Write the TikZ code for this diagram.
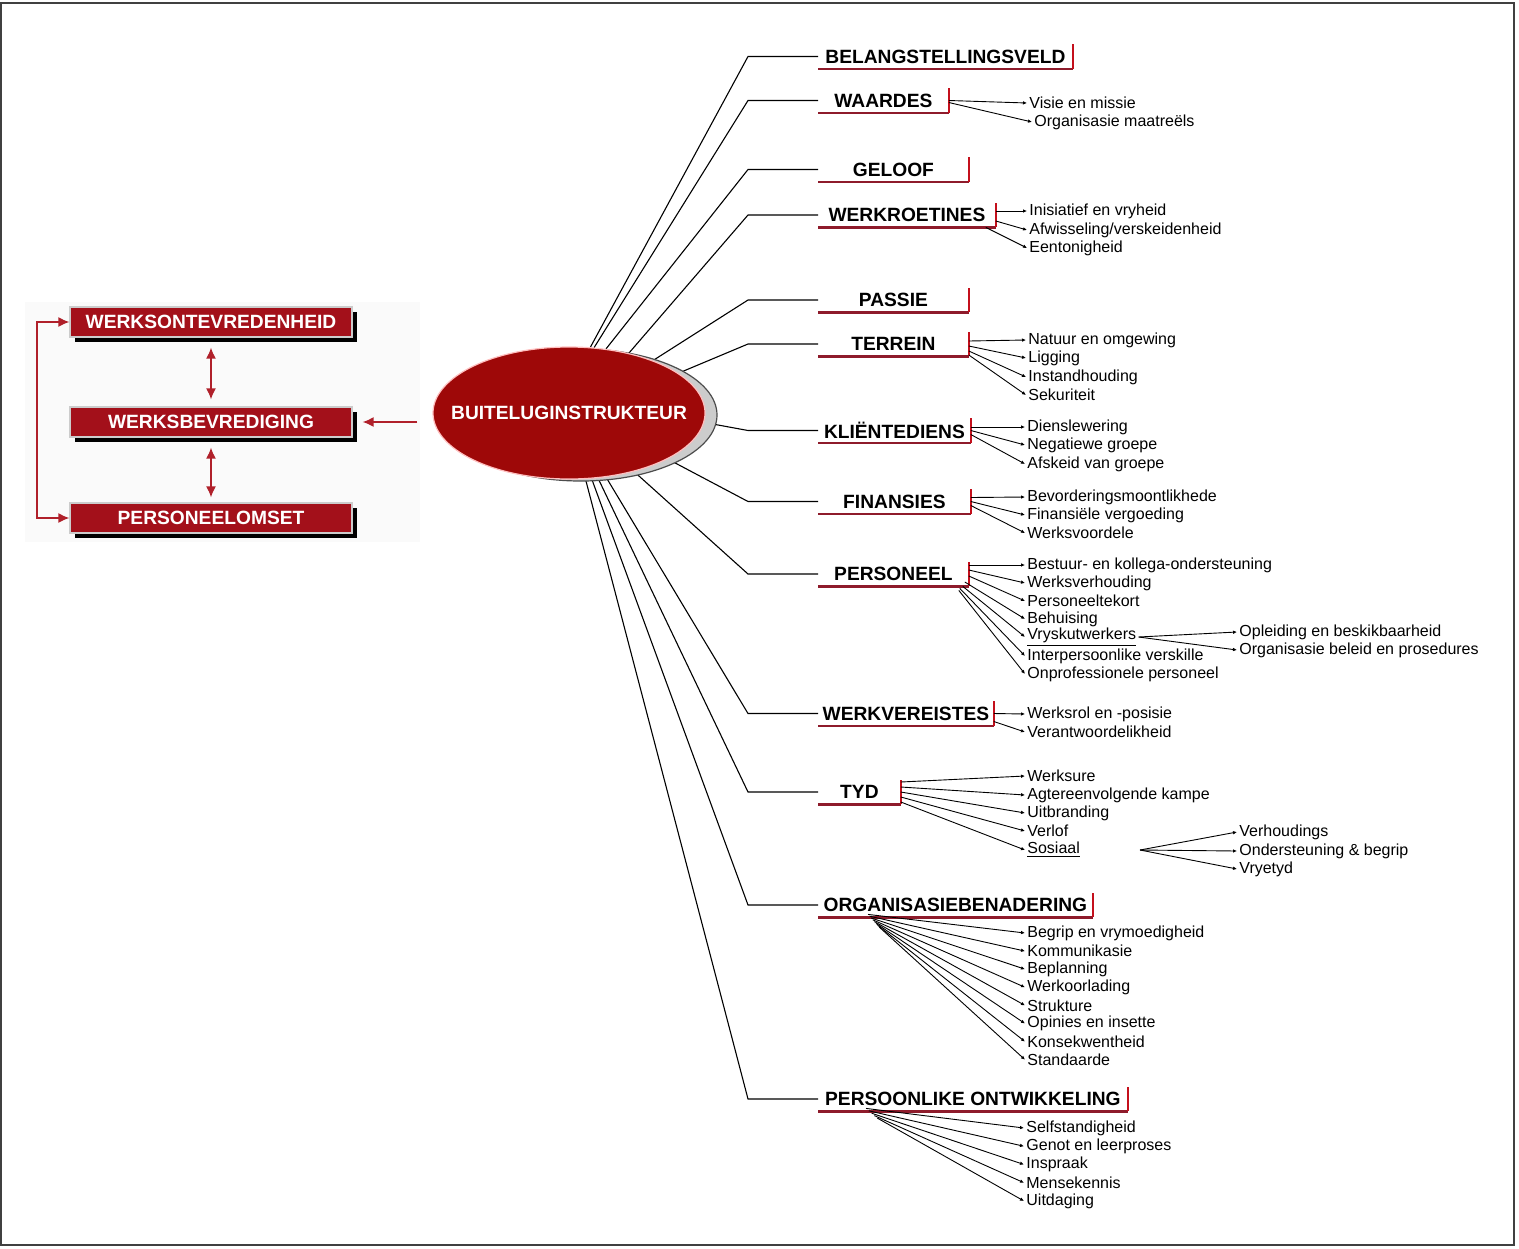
\documentclass[tikz,border=0pt]{standalone}
\usepackage{fontspec}
\setmainfont{Liberation Sans}
\usetikzlibrary{arrows.meta,shapes.geometric,shadows,backgrounds}

\definecolor{boxred}{HTML}{A3101A}
\definecolor{ellred}{HTML}{9E0808}
\definecolor{arrred}{HTML}{B0202A}
\definecolor{ulred}{HTML}{8E1B2B}
\definecolor{tickred}{HTML}{C4101C}

\tikzset{
  catbox/.style={anchor=west, minimum width=#1, minimum height=12pt, inner sep=0pt,
    font=\fontsize{9.6}{11}\selectfont\bfseries},
  item/.style={anchor=west, inner xsep=1pt, inner ysep=0.5pt, font=\fontsize{8}{9.6}\selectfont},
  twig/.style={-{Latex[length=2pt,width=1.8pt]}, line width=0.45pt},
  stem/.style={line width=0.55pt},
  uline/.style={draw=ulred, line width=1.2pt},
  tick/.style={draw=tickred, line width=1pt},
  redbox/.style={fill=boxred, draw=black!20, line width=0.6pt, text=white,
    minimum width=141pt, minimum height=15pt, inner sep=0pt,
    font=\fontsize{9.6}{11}\selectfont\bfseries,
    drop shadow={shadow xshift=2.5pt, shadow yshift=-2.5pt, fill=black, opacity=1}},
  redarr/.style={draw=arrred, line width=0.8pt}
}

\begin{document}
\begin{tikzpicture}[x=0.5pt, y=-0.5pt, >={Latex[length=5.5pt,width=5pt]}]
\useasboundingbox (0,0) rectangle (1519,1248);
\draw[black!75, line width=0.9pt] (1,3) rectangle (1514,1245);

% left block
\node[redbox] (b1) at (211,322) {WERKSONTEVREDENHEID};
\node[redbox] (b2) at (211,422) {WERKSBEVREDIGING};
\node[redbox] (b3) at (211,518) {PERSONEELOMSET};
\coordinate (loopx) at (37,0);

\draw[redarr, <->, shorten <=5pt, shorten >=3.5pt] (b1) -- (b2);
\draw[redarr, <->, shorten <=5pt, shorten >=2.5pt] (b2) -- (b3);
\draw[redarr, <->] (b1.west) -- (loopx |- b1.west) -- (loopx |- b3.west) -- (b3.west);

% centre
\node[ellipse, fill=ellred, draw=red!25, line width=0.6pt, minimum width=136pt, minimum height=66pt,
  inner sep=0pt,
  drop shadow={shadow xshift=6pt, shadow yshift=-1pt, fill=gray!40, draw=black!70, opacity=1},
  label={[text=white, font=\fontsize{9.6}{11}\selectfont\bfseries]center:BUITELUGINSTRUKTEUR}]
  (ell) at (569,413) {};
\draw[redarr, ->, shorten <=7.5pt, shorten >=5pt] (b2.east -| ell.west) -- (b2.east);

% categories
\node[catbox=127pt] (bel) at (818,56.5) {BELANGSTELLINGSVELD};
\node[catbox=65pt] (waa) at (818,100.5) {WAARDES};
\node[catbox=75pt] (gel) at (818,169.5) {GELOOF};
\node[catbox=88.5pt] (wrk) at (818,215) {WERKROETINES};
\node[catbox=75pt] (pas) at (818,300) {PASSIE};
\node[catbox=75pt] (ter) at (818,344) {TERREIN};
\node[catbox=76pt] (kli) at (818,430.5) {KLIËNTEDIENS};
\node[catbox=76pt] (fin) at (818,501.5) {FINANSIES};
\node[catbox=75pt] (per) at (818,574) {PERSONEEL};
\node[catbox=87.5pt] (wve) at (818,713.5) {WERKVEREISTES};
\node[catbox=41pt] (tyd) at (818,792) {TYD};
\node[catbox=137pt] (org) at (818,905) {ORGANISASIEBENADERING};
\node[catbox=154.5pt] (pon) at (818,1099) {PERSOONLIKE ONTWIKKELING};

\foreach \n in {bel,waa,gel,wrk,pas,ter,kli,fin,per,wve,tyd,org,pon}{
  \draw[uline] (\n.south west) -- (\n.south east);
  \draw[tick] (\n.south east) -- (\n.north east);
}

\coordinate (spine) at (748,0);
\begin{scope}[on background layer]
  \fill[black!2] (25,302) rectangle (420,542);
  \foreach \n/\a in {bel/72, waa/69, gel/60, wrk/45, pas/32, ter/20, kli/-4, fin/-25,
                     per/-42, wve/-60, tyd/-66, org/-71, pon/-76}
    \draw[stem] (ell.\a) -- (spine |- \n.west) -- (\n.west);
\end{scope}

% WAARDES
\node[item] (vis) at (1027,103) {Visie en missie};
\node[item] (orm) at (1032,122) {Organisasie maatreëls};
\draw[twig] (waa.east) -- (vis.west);
\draw[twig] ([yshift=-1pt]waa.east) -- (orm.west);

% WERKROETINES
\node[item] (ini) at (1027,211) {Inisiatief en vryheid};
\node[item] (afw) at (1027,230) {Afwisseling/verskeidenheid};
\node[item] (een) at (1027,248) {Eentonigheid};
\draw[twig] ([yshift=2pt]wrk.east) -- (ini.west);
\draw[twig] ([yshift=-3pt]wrk.east) -- (afw.west);
\draw[twig] ([xshift=-5pt]wrk.south east) -- (een.west);

% TERREIN
\node[item] (nat) at (1026,340) {Natuur en omgewing};
\node[item] (lig) at (1026,358) {Ligging};
\node[item] (ins) at (1026,377) {Instandhouding};
\node[item] (sek) at (1026,395) {Sekuriteit};
\foreach \s/\t in {1.5/nat, -1/lig, -3.5/ins, -5.5/sek}
  \draw[twig] ([yshift=\s pt]ter.east) -- (\t.west);

% KLIENTEDIENS
\node[item] (dsl) at (1025,427) {Dienslewering};
\node[item] (neg) at (1025,445) {Negatiewe groepe};
\node[item] (afs) at (1025,464) {Afskeid van groepe};
\foreach \s/\t in {1.75/dsl, 0/neg, -2/afs}
  \draw[twig] ([yshift=\s pt]kli.east) -- (\t.west);

% FINANSIES
\node[item] (bev) at (1025,497) {Bevorderingsmoontlikhede};
\node[item] (fvg) at (1025,515) {Finansiële vergoeding};
\node[item] (wvd) at (1025,533) {Werksvoordele};
\foreach \s/\t in {2/bev, 0/fvg, -2/wvd}
  \draw[twig] ([yshift=\s pt]fin.east) -- (\t.west);

% PERSONEEL
\node[item] (bes) at (1025,565) {Bestuur- en kollega-ondersteuning};
\node[item] (wvh) at (1025,583) {Werksverhouding};
\node[item] (ptk) at (1025,601) {Personeeltekort};
\node[item] (beh) at (1025,619) {Behuising};
\node[item] (vry) at (1025,637) {\underline{Vryskutwerkers}};
\node[item] (ipv) at (1025,656) {Interpersoonlike verskille};
\node[item] (onp) at (1025,674) {Onprofessionele personeel};
\draw[twig] ([yshift=4.5pt]per.east) -- (bes.west);
\draw[twig] ([yshift=2pt]per.east) -- (wvh.west);
\draw[twig] ([yshift=-1pt]per.east) -- (ptk.west);
\draw[twig] ([xshift=-2pt,yshift=-4pt]per.east) -- (beh.west);
\draw[twig] ([xshift=-3pt]per.south east) -- (vry.west);
\draw[twig] ([xshift=-4.5pt,yshift=-1pt]per.south east) -- (ipv.west);
\draw[twig] ([xshift=-5pt,yshift=-2pt]per.south east) -- (onp.west);

\node[item] (opl) at (1237,632) {Opleiding en beskikbaarheid};
\node[item] (obp) at (1237,650) {Organisasie beleid en prosedures};
\draw[twig] (vry.east) -- (opl.west);
\draw[twig] (vry.east) -- (obp.west);

% WERKVEREISTES
\node[item] (wrp) at (1025,714) {Werksrol en -posisie};
\node[item] (vwd) at (1025,732) {Verantwoordelikheid};
\draw[twig] (wve.east) -- (wrp.west);
\draw[twig] ([yshift=-4pt]wve.east) -- (vwd.west);

% TYD
\node[item] (wsu) at (1025,776) {Werksure};
\node[item] (agk) at (1025,795) {Agtereenvolgende kampe};
\node[item] (uit) at (1025,813) {Uitbranding};
\node[item] (vlf) at (1025,831) {Verlof};
\node[item] (sos) at (1025,850) {\underline{Sosiaal}};
\foreach \s/\t in {5/wsu, 2.5/agk, 0/uit, -2.5/vlf, -5/sos}
  \draw[twig] ([yshift=\s pt]tyd.east) -- (\t.west);

\coordinate (sosfork) at (1140,850);
\node[item] (vhd) at (1237,832) {Verhoudings};
\node[item] (osb) at (1237,851) {Ondersteuning \& begrip};
\node[item] (vyt) at (1237,869) {Vryetyd};
\foreach \t in {vhd,osb,vyt}
  \draw[twig] (sosfork) -- (\t.west);

% ORGANISASIEBENADERING
\foreach \n/\t [count=\i from 0] in {bvm/Begrip en vrymoedigheid, kom/Kommunikasie, bpl/Beplanning,
    wol/Werkoorlading, stk/Strukture, ois/Opinies en insette, kon/Konsekwentheid, std/Standaarde}{
  \node[item] (\n) at (1025,933+18.1*\i) {\t};
  \draw[twig] ([xshift=25pt+0.8pt*\i, yshift=1.5pt-0.9pt*\i]org.south west) -- (\n.west);
}

% PERSOONLIKE ONTWIKKELING
\foreach \n/\t [count=\i from 0] in {sfs/Selfstandigheid, glp/Genot en leerproses, isp/Inspraak,
    mkn/Mensekennis, udg/Uitdaging}{
  \node[item] (\n) at (1024,1128+18.25*\i) {\t};
  \draw[twig] ([xshift=24pt+1.4pt*\i, yshift=1.5pt-1.2pt*\i]pon.south west) -- (\n.west);
}
\end{tikzpicture}
\end{document}
